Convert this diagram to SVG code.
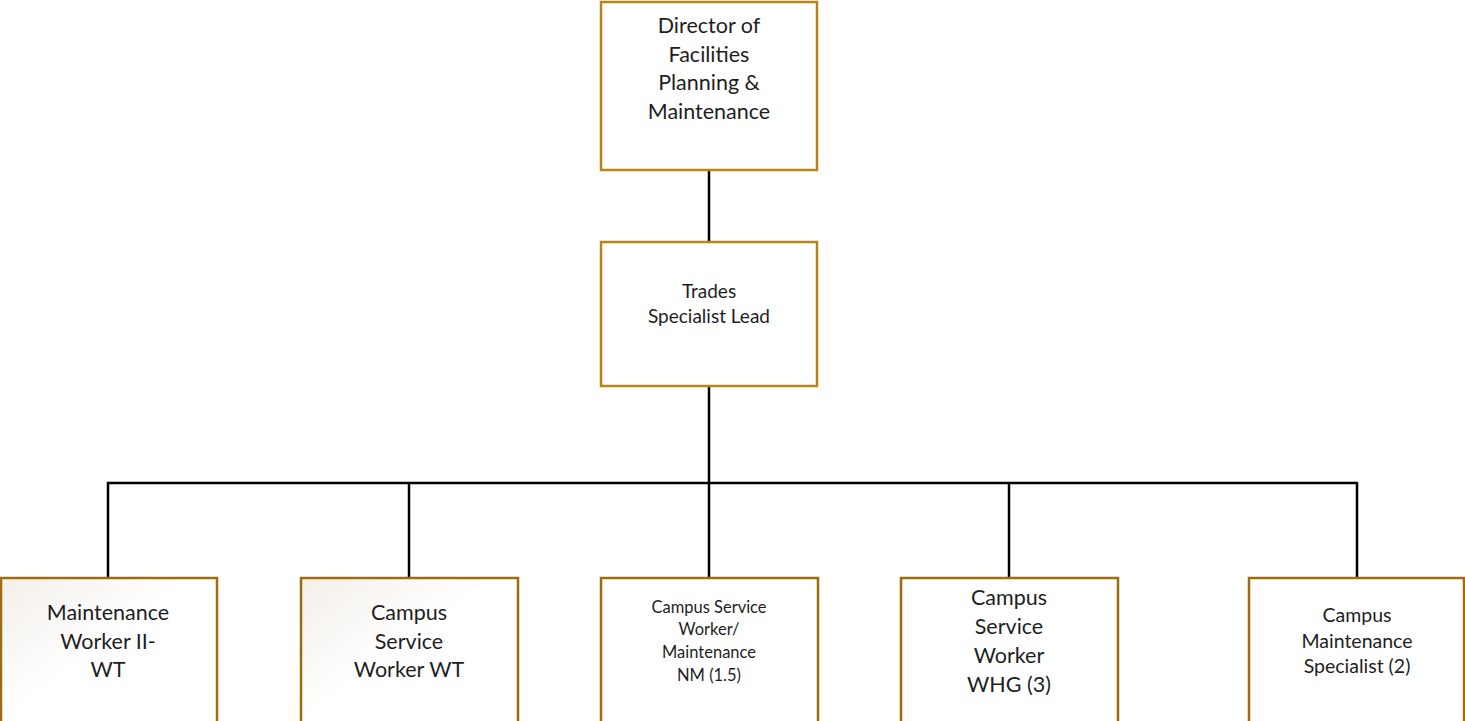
<svg xmlns="http://www.w3.org/2000/svg" width="1465" height="721" viewBox="0 0 1465 721">
<defs>
<linearGradient id="beige" x1="0" y1="0" x2="1" y2="1">
<stop offset="0" stop-color="#f3efe9"/>
<stop offset="0.45" stop-color="#ffffff"/>
<stop offset="1" stop-color="#ffffff"/>
</linearGradient>
<style>
.top{fill:#ffffff;stroke:#b5851a;stroke-width:2.5}
.bot{fill:#ffffff;stroke:#9c6c0e;stroke-width:2.5}
.grad{fill:url(#beige)}
text{font-family:Lato,"Open Sans","Liberation Sans",sans-serif;fill:#1e1e1e;text-anchor:middle}
.l{font-size:21.5px}
.m{font-size:19.5px}
.t{font-size:19px}
.s14{font-size:16.5px}
.conn{stroke:#000;stroke-width:2.5;fill:none}
</style>
</defs>
<rect width="1465" height="721" fill="#ffffff"/>
<g id="connectors">
<line class="conn" x1="709" y1="170" x2="709" y2="241"/>
<line class="conn" x1="709" y1="386" x2="709" y2="483"/>
<polyline class="conn" points="108,578 108,483 1357,483 1357,578"/>
<line class="conn" x1="409" y1="483" x2="409" y2="578"/>
<line class="conn" x1="709" y1="483" x2="709" y2="578"/>
<line class="conn" x1="1009" y1="483" x2="1009" y2="578"/>
</g>
<g id="director">
<rect class="top" x="601" y="2" width="216" height="168"/>
<text class="l" x="709" y="33">Director of</text>
<text class="l" x="709" y="62">Facilities</text>
<text class="l" x="709" y="90">Planning &amp;</text>
<text class="l" x="709" y="119">Maintenance</text>
</g>
<g id="trades-lead">
<rect class="top" x="601" y="242" width="216" height="144"/>
<text class="t" x="709" y="298">Trades</text>
<text class="t" x="709" y="323">Specialist Lead</text>
</g>
<g id="maintenance-worker">
<rect class="bot grad" x="1" y="578" width="216" height="160"/>
<text class="l" x="108" y="620">Maintenance</text>
<text class="l" x="108" y="649">Worker II-</text>
<text class="l" x="108" y="677">WT</text>
</g>
<g id="campus-service-wt">
<rect class="bot grad" x="301" y="578" width="217" height="160"/>
<text class="l" x="409" y="620">Campus</text>
<text class="l" x="409" y="649">Service</text>
<text class="l" x="409" y="677">Worker WT</text>
</g>
<g id="campus-service-nm">
<rect class="bot" x="601" y="578" width="217" height="160"/>
<text class="s14" x="709" y="613">Campus Service</text>
<text class="s14" x="709" y="635">Worker/</text>
<text class="s14" x="709" y="658">Maintenance</text>
<text class="s14" x="709" y="681">NM (1.5)</text>
</g>
<g id="campus-service-whg">
<rect class="bot" x="901" y="578" width="217" height="160"/>
<text class="l" x="1009" y="605">Campus</text>
<text class="l" x="1009" y="634">Service</text>
<text class="l" x="1009" y="663">Worker</text>
<text class="l" x="1009" y="692">WHG (3)</text>
</g>
<g id="campus-maintenance-specialist">
<rect class="bot" x="1249" y="578" width="215" height="160"/>
<text class="m" x="1357" y="622">Campus</text>
<text class="m" x="1357" y="648">Maintenance</text>
<text class="m" x="1357" y="673">Specialist (2)</text>
</g>
</svg>
